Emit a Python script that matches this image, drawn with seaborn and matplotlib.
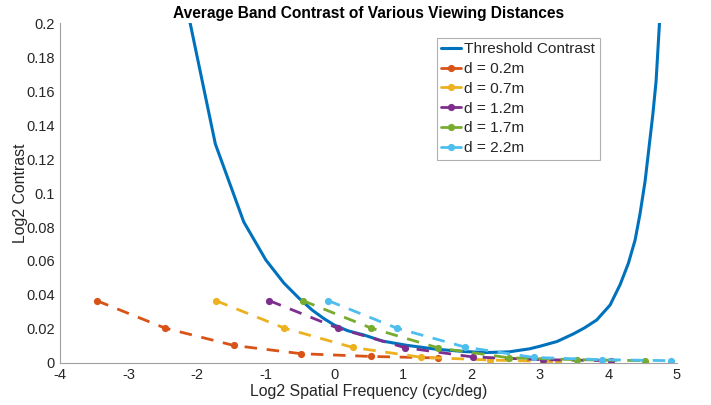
import matplotlib
matplotlib.use("Agg")
import matplotlib.pyplot as plt
from matplotlib.legend_handler import HandlerLine2D
import numpy as np
import seaborn as sns
import pandas as pd

# Threshold contrast curve (log2 spatial frequency in cyc/deg, contrast)
thr_log2f = [-2.32, -1.737, -1.322, -1.0, -0.737, -0.515, -0.322, -0.152, 0.0,
             0.2, 0.42, 0.7, 1.05, 1.5, 1.9, 2.2, 2.55, 2.85, 3.0, 3.25, 3.49,
             3.65, 3.83, 4.025, 4.171, 4.292, 4.39, 4.463, 4.536, 4.648, 4.696,
             4.745, 4.80]
thr_contrast = [0.242, 0.129, 0.083, 0.0606, 0.047, 0.038, 0.031, 0.026, 0.0222,
                0.0188, 0.0165, 0.0128, 0.0103, 0.0079, 0.0066, 0.0060, 0.0064,
                0.0082, 0.0097, 0.0125, 0.0170, 0.0205, 0.0252, 0.034, 0.046,
                0.0586, 0.0723, 0.088, 0.107, 0.146, 0.1657, 0.1995, 0.235]

# Average band contrast per viewing distance
labels = ["d = 0.2m", "d = 0.7m", "d = 1.2m", "d = 1.7m", "d = 2.2m"]
d02_f = [-3.47, -2.47, -1.47, -0.48, 0.53, 1.52]
d02_c = [0.0366, 0.0204, 0.0102, 0.0053, 0.0037, 0.0028]
d07_f = [-1.73, -0.73, 0.27, 1.27, 2.27, 3.26]
d07_c = [0.0366, 0.0204, 0.0090, 0.0032, 0.0016, 0.0006]
d12_f = [-0.95, 0.05, 1.03, 2.02, 3.04, 4.04]
d12_c = [0.0366, 0.0204, 0.0089, 0.0034, 0.0018, 0.0012]
d17_f = [-0.46, 0.54, 1.52, 2.55, 3.54, 4.54]
d17_c = [0.0366, 0.0204, 0.0087, 0.0029, 0.0018, 0.0012]
d22_f = [-0.09, 0.91, 1.91, 2.91, 3.91, 4.91]
d22_c = [0.0366, 0.0204, 0.0092, 0.0031, 0.0018, 0.0012]

series_f = [d02_f, d07_f, d12_f, d17_f, d22_f]
series_c = [d02_c, d07_c, d12_c, d17_c, d22_c]
colors = ["#D95319", "#EDB120", "#7E2F8E", "#77AC30", "#4DBEEE"]

x_ticks = [-4, -3, -2, -1, 0, 1, 2, 3, 4, 5]
y_ticks = [0, 0.02, 0.04, 0.06, 0.08, 0.1, 0.12, 0.14, 0.16, 0.18, 0.2]


class MarkerAtEndHandler(HandlerLine2D):
    """Legend handle with a solid stroke and its marker near the right end."""

    def get_xdata(self, legend, xdescent, ydescent, width, height, fontsize):
        xdata = np.array([-xdescent, -xdescent + width])
        xdata_marker = np.array([-xdescent + 0.85 * width])
        return xdata, xdata_marker


sns.set_theme(style="white")
plt.rcParams["font.family"] = ["Liberation Sans", "DejaVu Sans"]

fig = plt.figure(figsize=(7.11, 4.05), dpi=100)
ax = fig.add_axes([0.0848, 0.1044, 0.8672, 0.8376])

sns.lineplot(x=thr_log2f, y=thr_contrast, ax=ax, color="#0072BD", linewidth=2.2,
             sort=False, estimator=None, label="Threshold Contrast")

for f, c, col, lab in zip(series_f, series_c, colors, labels):
    df = pd.DataFrame({"log2f": f, "contrast": c})
    sns.lineplot(data=df, x="log2f", y="contrast", ax=ax, color=col,
                 linewidth=2.0, linestyle=(0, (4.5, 3.5)), marker="o",
                 markersize=5.2, markeredgewidth=0, sort=False, estimator=None,
                 label=lab)

ax.set_xlim(-4, 5)
ax.set_ylim(0, 0.2)
ax.set_xticks(x_ticks)
ax.set_xticklabels([f"{v:g}" for v in x_ticks])
ax.set_yticks(y_ticks)
ax.set_yticklabels([f"{v:g}" for v in y_ticks])

axis_gray = "#a0a0a0"
text_gray = "#262626"
for side in ["top", "right"]:
    ax.spines[side].set_visible(False)
for side in ["left", "bottom"]:
    ax.spines[side].set_color(axis_gray)
    ax.spines[side].set_linewidth(0.8)
ax.tick_params(axis="both", direction="in", length=4, width=0.8,
               color=axis_gray, labelsize=10.5, labelcolor=text_gray, pad=4)

ax.set_xlabel("Log2 Spatial Frequency (cyc/deg)", fontsize=11.4,
              color=text_gray, labelpad=1)
ax.set_ylabel("Log2 Contrast", fontsize=11.4, color=text_gray, labelpad=-1)
ax.set_title("Average Band Contrast of Various Viewing Distances",
             fontsize=11.2, fontweight="bold", color="black", pad=4)

handles, leg_labels = ax.get_legend_handles_labels()
leg = ax.legend(handles, leg_labels, loc="upper left",
                bbox_to_anchor=(0.611, 0.958), borderaxespad=0, fontsize=11.1,
                frameon=True, fancybox=False, framealpha=1, edgecolor="#b0b0b0",
                handlelength=1.3, handletextpad=0.2, borderpad=0.28,
                labelspacing=0.38, numpoints=1,
                handler_map={h: MarkerAtEndHandler() for h in handles})
leg.get_frame().set_linewidth(0.8)
for t in leg.get_texts():
    t.set_color(text_gray)
for h in leg.get_lines():
    h.set_linestyle("-")

fig.savefig("out.png", dpi=100)
